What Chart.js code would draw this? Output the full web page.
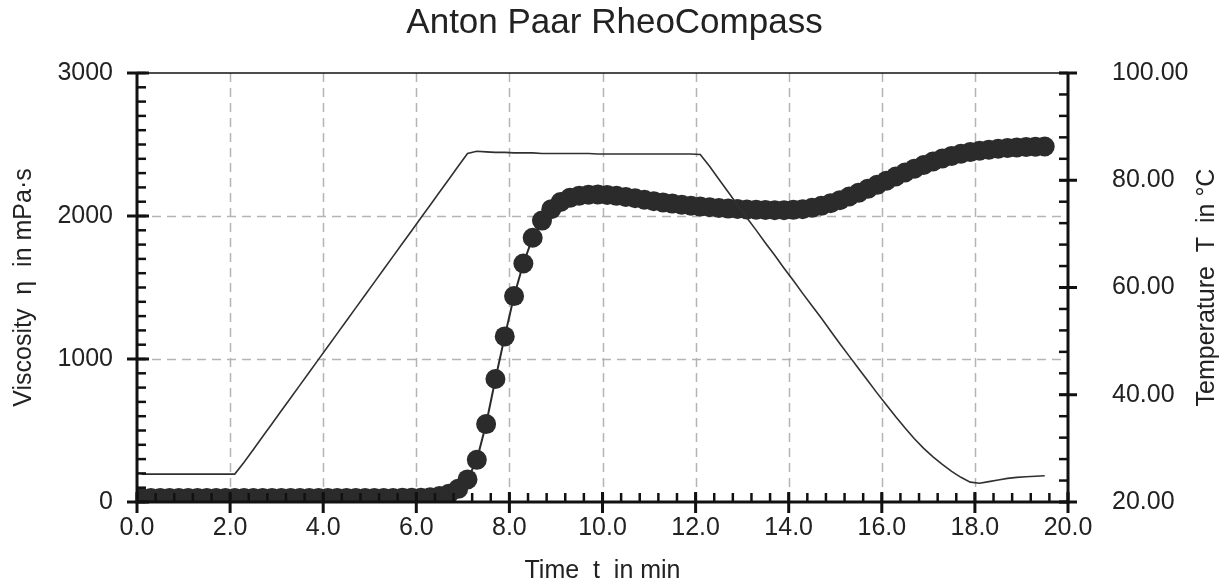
<!DOCTYPE html>
<html>
<head>
<meta charset="utf-8">
<script src="https://cdn.jsdelivr.net/npm/chart.js@4.4.1/dist/chart.umd.min.js"></script>
<style>
  body { margin: 0; background: #fff; }
  #wrap { width: 1229px; height: 587px; }
</style>
</head>
<body>
<div id="wrap"><canvas id="rheo" width="1229" height="587"></canvas></div>
<script>
// measuring points, time in min
var timeMin = [
  0.1, 0.3, 0.5, 0.7, 0.9, 1.1, 1.3, 1.5, 1.7, 1.9,
  2.1, 2.3, 2.5, 2.7, 2.9, 3.1, 3.3, 3.5, 3.7, 3.9,
  4.1, 4.3, 4.5, 4.7, 4.9, 5.1, 5.3, 5.5, 5.7, 5.9,
  6.1, 6.3, 6.5, 6.7, 6.9, 7.1, 7.3, 7.5, 7.7, 7.9,
  8.1, 8.3, 8.5, 8.7, 8.9, 9.1, 9.3, 9.5, 9.7, 9.9,
  10.1, 10.3, 10.5, 10.7, 10.9, 11.1, 11.3, 11.5, 11.7, 11.9,
  12.1, 12.3, 12.5, 12.7, 12.9, 13.1, 13.3, 13.5, 13.7, 13.9,
  14.1, 14.3, 14.5, 14.7, 14.9, 15.1, 15.3, 15.5, 15.7, 15.9,
  16.1, 16.3, 16.5, 16.7, 16.9, 17.1, 17.3, 17.5, 17.7, 17.9,
  18.1, 18.3, 18.5, 18.7, 18.9, 19.1, 19.3, 19.5
];

// viscosity in mPa·s
var viscosity = [
  28, 28, 28, 28, 28, 28, 28, 28, 28, 28,
  28, 28, 28, 28, 28, 28, 28, 28, 28, 28,
  28, 28, 28, 28, 28, 28, 28, 28, 29, 29,
  30, 34, 42, 58, 92, 158, 295, 545, 860, 1158,
  1440, 1668, 1848, 1968, 2048, 2098, 2127, 2142, 2149, 2150,
  2147, 2141, 2133, 2124, 2114, 2104, 2095, 2087, 2079, 2072,
  2066, 2061, 2056, 2052, 2049, 2046, 2044, 2042, 2041, 2041,
  2043, 2048, 2057, 2071, 2089, 2111, 2136, 2162, 2190, 2218,
  2247, 2276, 2304, 2331, 2357, 2381, 2402, 2420, 2435, 2447,
  2456, 2464, 2470, 2475, 2479, 2482, 2484, 2486
];

// temperature in °C
var temperature = [
  25.2, 25.2, 25.2, 25.2, 25.2, 25.2, 25.2, 25.2, 25.2, 25.2,
  25.2, 27.4, 29.8, 32.2, 34.6, 37.0, 39.4, 41.8, 44.2, 46.6,
  49.0, 51.4, 53.8, 56.2, 58.6, 61.0, 63.4, 65.8, 68.2, 70.6,
  73.0, 75.4, 77.8, 80.2, 82.6, 85.0, 85.4, 85.3, 85.2, 85.2,
  85.1, 85.1, 85.1, 85.0, 85.0, 85.0, 85.0, 85.0, 85.0, 84.9,
  84.9, 84.9, 84.9, 84.9, 84.9, 84.9, 84.9, 84.9, 84.9, 84.9,
  84.8, 82.6, 80.2, 77.8, 75.4, 73.0, 70.7, 68.3, 66.0, 63.6,
  61.3, 58.9, 56.6, 54.3, 51.9, 49.5, 47.2, 44.9, 42.6, 40.3,
  38.1, 35.9, 33.8, 31.8, 30.0, 28.4, 27.0, 25.7, 24.6, 23.7,
  23.5, 23.8, 24.1, 24.4, 24.6, 24.7, 24.8, 24.9
];

// axis ticks
var timeTicks = [0, 2, 4, 6, 8, 10, 12, 14, 16, 18, 20];
var viscTicks = [0, 1000, 2000, 3000];
var tempTicks = [20, 40, 60, 80, 100];
var timeMinor = 0.4, viscMinor = 100, tempMinor = 4;

var ink = '#222222';
var fontFamily = '"Liberation Sans", Arial, sans-serif';
Chart.defaults.font.family = fontFamily;
Chart.defaults.color = ink;

function xy(xs, ys) {
    return xs.map(function (t, i) { return { x: t, y: ys[i] }; });
}

function setTicks(list) {
    return function (scale) {
        scale.ticks = list.map(function (v) { return { value: v }; });
    };
}

function seg(ctx, x1, y1, x2, y2) {
    ctx.beginPath();
    ctx.moveTo(x1, y1);
    ctx.lineTo(x2, y2);
    ctx.stroke();
}

// dashed grid, axis frame with inner minor ticks, right axis title
var framePlugin = {
    id: 'frame',
    beforeDatasetsDraw: function (chart) {
        var ctx = chart.ctx, a = chart.chartArea;
        var sx = chart.scales.x, sy = chart.scales.y;
        ctx.save();
        ctx.strokeStyle = '#b4b4b4';
        ctx.lineWidth = 1.5;
        ctx.setLineDash([9, 6]);
        timeTicks.slice(1, -1).forEach(function (v) {
            var p = Math.round(sx.getPixelForValue(v)) + 0.5;
            seg(ctx, p, a.top, p, a.bottom);
        });
        viscTicks.slice(1, -1).forEach(function (v) {
            var p = Math.round(sy.getPixelForValue(v)) + 0.5;
            seg(ctx, a.left, p, a.right, p);
        });
        ctx.restore();
    },
    afterDatasetsDraw: function (chart) {
        var ctx = chart.ctx, a = chart.chartArea;
        var sx = chart.scales.x, sy = chart.scales.y, sy1 = chart.scales.y1;
        var v, p;
        ctx.save();
        ctx.strokeStyle = '#111';
        ctx.lineCap = 'butt';

        // top border
        ctx.lineWidth = 1.5;
        seg(ctx, a.left, a.top, a.right, a.top);

        // axis lines
        ctx.lineWidth = 3;
        seg(ctx, a.left, a.top - 1, a.left, a.bottom + 1.5);
        seg(ctx, a.right, a.top - 1, a.right, a.bottom + 1.5);
        seg(ctx, a.left, a.bottom, a.right, a.bottom);

        // minor ticks (inside)
        ctx.lineWidth = 2.5;
        for (v = sx.min; v <= sx.max + 1e-6; v += timeMinor) {
            p = sx.getPixelForValue(v);
            seg(ctx, p, a.bottom, p, a.bottom - 9);
        }
        for (v = sy.min; v <= sy.max + 1e-6; v += viscMinor) {
            p = sy.getPixelForValue(v);
            seg(ctx, a.left, p, a.left + 9, p);
        }
        for (v = sy1.min; v <= sy1.max + 1e-6; v += tempMinor) {
            p = sy1.getPixelForValue(v);
            seg(ctx, a.right, p, a.right - 9, p);
        }

        // major ticks (cross the axis)
        ctx.lineWidth = 3;
        timeTicks.forEach(function (t) {
            var q = sx.getPixelForValue(t);
            seg(ctx, q, a.bottom - 10, q, a.bottom + 11);
        });
        viscTicks.forEach(function (t) {
            var q = sy.getPixelForValue(t);
            seg(ctx, a.left - 10, q, a.left + 12, q);
        });
        tempTicks.forEach(function (t) {
            var q = sy1.getPixelForValue(t);
            seg(ctx, a.right - 9, q, a.right + 9, q);
        });

        // right axis title reads bottom to top
        ctx.translate(chart.width - 22, (a.top + a.bottom) / 2);
        ctx.rotate(-Math.PI / 2);
        ctx.fillStyle = ink;
        ctx.font = '25px ' + fontFamily;
        ctx.textAlign = 'center';
        ctx.textBaseline = 'middle';
        ctx.fillText('Temperature  T  in °C', 0, 0);
        ctx.restore();
    }
};

var ctx = document.getElementById('rheo');

var rheoChart = new Chart(ctx, {
    type: 'line',
    data: {
        datasets: [
            {
                label: 'Temperature',
                data: xy(timeMin, temperature),
                yAxisID: 'y1',
                borderColor: '#303030',
                borderWidth: 1.6,
                pointRadius: 0,
                tension: 0,
                fill: false
            },
            {
                label: 'Viscosity',
                data: xy(timeMin, viscosity),
                yAxisID: 'y',
                borderColor: '#2b2b2b',
                borderWidth: 2,
                pointRadius: 10,
                pointBackgroundColor: '#2b2b2b',
                pointBorderColor: '#2b2b2b',
                pointBorderWidth: 0,
                tension: 0,
                fill: false
            }
        ]
    },
    options: {
        responsive: false,
        animation: false,
        events: [],
        layout: { padding: 0 },
        plugins: {
            legend: { display: false },
            tooltip: { enabled: false },
            title: {
                display: true,
                text: 'Anton Paar RheoCompass',
                color: ink,
                font: { size: 35, weight: 'normal' },
                padding: { top: 2, bottom: 29 }
            }
        },
        scales: {
            x: {
                type: 'linear',
                position: 'bottom',
                min: 0,
                max: 20,
                afterBuildTicks: setTicks(timeTicks),
                grid: { display: false, drawTicks: false },
                border: { display: false },
                ticks: {
                    padding: 11,
                    autoSkip: false,
                    maxRotation: 0,
                    font: { size: 25 },
                    callback: function (v) { return Number(v).toFixed(1); }
                },
                title: {
                    display: true,
                    text: 'Time  t  in min',
                    font: { size: 25 },
                    padding: { top: 0, bottom: 1 }
                },
                afterFit: function (s) { s.height = 85; }
            },
            y: {
                type: 'linear',
                position: 'left',
                min: 0,
                max: 3000,
                afterBuildTicks: setTicks(viscTicks),
                grid: { display: false, drawTicks: false },
                border: { display: false },
                ticks: {
                    padding: 24,
                    font: { size: 25 },
                    callback: function (v) { return String(v); }
                },
                title: {
                    display: true,
                    text: 'Viscosity  η  in mPa·s',
                    font: { size: 25 },
                    padding: { top: 9, bottom: 0 }
                },
                afterFit: function (s) { s.width = 137; }
            },
            y1: {
                type: 'linear',
                position: 'right',
                min: 20,
                max: 100,
                afterBuildTicks: setTicks(tempTicks),
                grid: { display: false, drawTicks: false },
                border: { display: false },
                ticks: {
                    padding: 44,
                    font: { size: 25 },
                    callback: function (v) { return Number(v).toFixed(2); }
                },
                afterFit: function (s) { s.width = 161; }
            }
        }
    },
    plugins: [framePlugin]
});
</script>
</body>
</html>
